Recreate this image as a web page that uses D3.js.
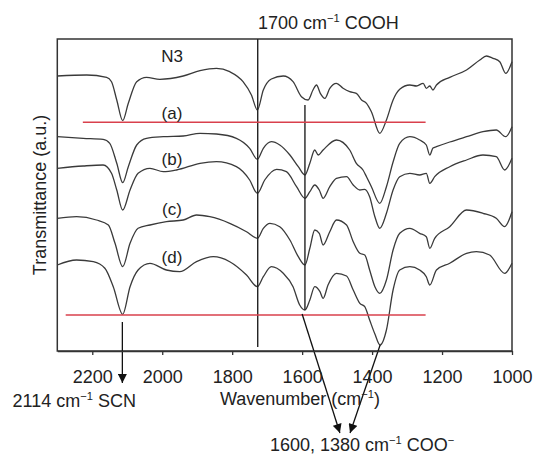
<!DOCTYPE html>
<html>
<head>
<meta charset="utf-8">
<script src="https://cdn.jsdelivr.net/npm/d3@7"></script>
<style>
  html, body { margin: 0; padding: 0; background: #fff; }
  svg text { font-family: "Liberation Sans", Arial, Helvetica, sans-serif; fill: #222; }
</style>
</head>
<body>
<svg id="chart" width="533" height="455"></svg>
<script>
// ---- data (wavenumber cm^-1, transmittance a.u.) ----
const seriesLabels = ["N3", "(a)", "(b)", "(c)", "(d)"];
const xTicks = [2200, 2000, 1800, 1600, 1400, 1200, 1000];

const n3 = [[2300,275],[2216,276],[2159,273.7],[2145,269.3],[2130,251],[2113,230.3],[2097,247.7],[2073,269.3],[2045,273.7],[2007,271.7],[1940,275],[1892,280.3],[1845,282.7],[1807,279.3],[1769,269.3],[1745,256],[1728,241],[1711,261],[1688,272],[1654,275],[1626,269.3],[1602,254.3],[1583,251],[1569,261],[1559,266],[1548,257.7],[1535,252.7],[1521,262.7],[1502,267.7],[1483,262.7],[1464,259.3],[1445,257.7],[1430,251],[1416,247.7],[1402,239.3],[1378,217.7],[1359,231],[1340,251],[1321,261.7],[1292,266],[1273,265],[1254,267.7],[1245,262.7],[1235,265],[1226,261],[1216,266],[1178,273.7],[1130,281],[1092,291],[1073,295],[1054,292.7],[1035,289.3],[1018,277.7],[1000,289.3]];

const specA = [[2300,214.3],[2226,212.7],[2169,211.7],[2150,207.7],[2130,187.7],[2113,168.3],[2097,184.3],[2073,206],[2045,212.7],[1997,214.3],[1940,215],[1892,217.7],[1845,217],[1788,212.7],[1750,202.7],[1728,191.7],[1711,202.7],[1688,209.3],[1664,206],[1635,196],[1611,184.3],[1592,176],[1578,187.7],[1564,201],[1554,196],[1540,201],[1502,211],[1464,201],[1445,187.7],[1426,181],[1416,174.3],[1402,164.3],[1378,147.7],[1359,164.3],[1340,189],[1321,207.7],[1292,214.3],[1264,211],[1245,206],[1235,196],[1226,203],[1216,204.3],[1178,209],[1130,214.3],[1083,219.3],[1045,221],[1018,214.3],[1000,224.3]];

const specB = [[2300,182.7],[2226,185],[2169,186],[2145,177.7],[2130,161],[2113,141],[2092,161],[2069,177.7],[2035,182.7],[1997,179.3],[1959,181],[1892,187.7],[1845,189.3],[1788,184.3],[1750,171],[1728,157.7],[1707,171],[1673,181.7],[1645,179.3],[1616,164.3],[1592,152.7],[1578,159.3],[1564,166],[1551,161],[1540,152.7],[1521,164.3],[1502,172.7],[1473,174.3],[1454,166],[1435,161],[1421,161.7],[1407,154.3],[1392,134.3],[1378,122.7],[1359,137.7],[1340,161],[1321,174.3],[1292,177.7],[1264,176],[1245,177.7],[1235,167.7],[1221,174.3],[1178,184.3],[1130,191],[1083,196],[1045,194.3],[1021,181],[1000,192.7]];

const specC = [[2300,132.7],[2245,134.3],[2188,131],[2154,126],[2135,107.7],[2113,84.3],[2092,107.7],[2069,122.7],[2035,126],[1988,129.3],[1940,131],[1902,136],[1864,134.3],[1807,127.7],[1759,119.3],[1728,112.7],[1711,122.7],[1692,127.7],[1664,124.3],[1635,111],[1611,94.3],[1592,86],[1578,102.7],[1564,121],[1551,117.7],[1540,106],[1521,119.3],[1502,131],[1473,126],[1454,109.3],[1435,97.7],[1421,96],[1407,81],[1392,64.3],[1378,57.7],[1359,71],[1340,101],[1321,117.7],[1292,122.7],[1264,117.7],[1245,114.3],[1235,102.7],[1221,112.7],[1178,124.3],[1130,141],[1083,137.7],[1045,132.7],[1021,124.3],[1000,139.3]];

const specD = [[2300,86],[2245,91],[2197,89.3],[2164,82.7],[2140,64.3],[2113,36.7],[2092,64.3],[2069,81],[2035,87.7],[1988,81],[1950,79.3],[1902,89.3],[1854,94.3],[1807,89.3],[1759,76],[1728,64.3],[1711,74.3],[1688,84.3],[1654,77.7],[1626,64.3],[1607,46],[1592,41],[1578,51],[1564,64.3],[1549,59.3],[1540,52.7],[1526,66],[1502,77.7],[1473,75],[1454,61],[1435,47.7],[1421,44.3],[1407,31],[1392,17],[1377,6],[1359,21],[1340,61],[1321,81],[1292,84.3],[1264,81],[1245,74.3],[1235,66],[1216,81],[1178,87.7],[1130,97.7],[1102,99.3],[1064,96],[1021,77.7],[1000,87.7]];

// reference lines & annotations (wavenumber, transmittance)
const cooHLine = [[1727, 312], [1727, 4]];
const cooLine = [[1592, 246], [1592, 41]];
const redLines = [[[2227, 228.7], [1247, 228.7]], [[2276, 36], [1247, 36]]];
const scnArrow = [[2114, 29], [2114, -32]];
const cooArrows = [[[1600, 37], [1492, -82]], [[1377, 6], [1463, -82]]];

// ---- layout ----
const svg = d3.select("#chart");
const plot = { left: 57.3, right: 512, top: 39, bottom: 351 };
const x = d3.scaleLinear().domain([2300, 1000]).range([plot.left, plot.right]);
const y = d3.scaleLinear().domain([0, 312]).range([plot.bottom, plot.top]);

const line = d3.line().x(d => x(d[0])).y(d => y(d[1])).curve(d3.curveMonotoneX);
const straight = d3.line().x(d => x(d[0])).y(d => y(d[1]));

// arrow marker
svg.append("defs").append("marker")
  .attr("id", "arrow").attr("markerUnits", "userSpaceOnUse")
  .attr("viewBox", "0 0 10 10").attr("refX", 10).attr("refY", 5)
  .attr("markerWidth", 11).attr("markerHeight", 9).attr("orient", "auto")
  .append("path").attr("d", "M0,0 L10,5 L0,10 Z").attr("fill", "#111");

// frame
svg.append("rect")
  .attr("x", plot.left).attr("y", plot.top)
  .attr("width", plot.right - plot.left).attr("height", plot.bottom - plot.top)
  .attr("fill", "none").attr("stroke", "#333").attr("stroke-width", 1.5);

// spectra
const spectra = [n3, specA, specB, specC, specD];
svg.append("g").selectAll("path").data(spectra).join("path")
  .attr("d", line).attr("fill", "none")
  .attr("stroke", "#3a3a3a").attr("stroke-width", 1.3);

// vertical marker lines
[cooHLine, cooLine].forEach(l => {
  svg.append("path").attr("d", straight(l)).attr("stroke", "#222").attr("stroke-width", 1.4).attr("fill", "none");
});

// red reference lines
redLines.forEach(l => {
  svg.append("path").attr("d", straight(l)).attr("stroke", "#d9404c").attr("stroke-width", 1.5).attr("fill", "none");
});

// arrows
[scnArrow, ...cooArrows].forEach(l => {
  svg.append("path").attr("d", straight(l)).attr("stroke", "#111").attr("stroke-width", 1.3)
    .attr("fill", "none").attr("marker-end", "url(#arrow)");
});

// x axis
const xAxis = d3.axisBottom(x).tickValues(xTicks).tickSize(4).tickSizeOuter(0).tickPadding(15).tickFormat(d3.format("d"));
const gx = svg.append("g").attr("transform", `translate(0,${plot.bottom})`).call(xAxis);
gx.select(".domain").attr("stroke", "#333").attr("stroke-width", 1.5);
gx.selectAll(".tick line").attr("stroke", "#333").attr("stroke-width", 1.3);
gx.selectAll(".tick text").attr("font-size", 18).attr("fill", "#222")
  .attr("font-family", "Liberation Sans, Arial, sans-serif");

// helper for text with superscripts: parts = [[text, isSup], ...]
function richText(xp, yp, parts, anchor, size) {
  const t = svg.append("text").attr("x", xp).attr("y", yp)
    .attr("font-size", size).attr("text-anchor", anchor);
  let up = false;
  parts.forEach(([s, sup]) => {
    const ts = t.append("tspan").text(s);
    if (sup && !up) { ts.attr("dy", -7).attr("font-size", size * 0.62); up = true; }
    else if (sup) { ts.attr("font-size", size * 0.62); }
    else if (!sup && up) { ts.attr("dy", 7); up = false; }
  });
  return t;
}

richText(258, 29, [["1700 cm", false], ["−1", true], [" COOH", false]], "start", 18);
richText(300, 405, [["Wavenumber (cm", false], ["−1", true], [")", false]], "middle", 18);
richText(12.5, 407, [["2114 cm", false], ["−1", true], [" SCN", false]], "start", 18);
richText(270, 451, [["1600, 1380 cm", false], ["−1", true], [" COO", false], ["−", true]], "start", 18);

// y axis title
svg.append("text")
  .attr("transform", `translate(46,${(plot.top + plot.bottom) / 2}) rotate(-90)`)
  .attr("text-anchor", "middle").attr("font-size", 18)
  .text("Transmittance (a.u.)");

// series labels
const labelPos = [[172, 62], [172, 119], [172, 165], [172, 215], [172, 263]];
svg.append("g").selectAll("text").data(seriesLabels).join("text")
  .attr("x", (d, i) => labelPos[i][0]).attr("y", (d, i) => labelPos[i][1])
  .attr("text-anchor", "middle").attr("font-size", 17)
  .text(d => d);
</script>
</body>
</html>
